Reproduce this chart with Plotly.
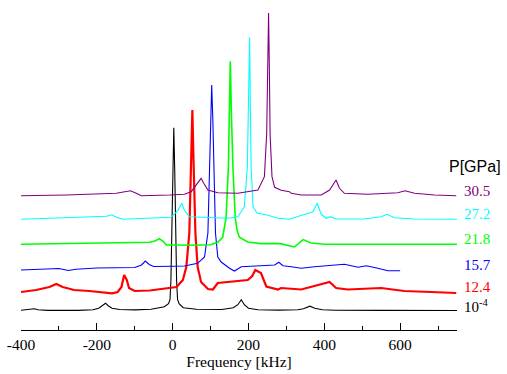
import plotly.graph_objects as go

# ---- data (x in kHz, intensity in arbitrary units above each trace's baseline)
black_khz = [-400, -375, -365, -355, -330, -250, -210, -195, -185, -177, -170, -160, -140, -100, -57, -22, -11, -7, -4.6, -2,
             0.5, 3, 5.5, 8, 10.4, 13, 17, 28, 63, 130, 160, 172, 181, 189, 200, 225, 280, 330, 345, 362, 375, 395, 430, 550, 750]
black_int = [0.5, 1.5, 2, 1, 0.3, 0.3, 1, 2.5, 5, 7.5, 5, 2.5, 1.2, 0.8, 1.5, 4, 7, 11, 30, 78,
             140, 183, 140, 78, 30, 11, 7, 3, 1.5, 1.2, 3, 6, 11, 6, 2.5, 1, 0.6, 1, 2, 4.5, 2.5, 1, 0.5, 0.3, 0.2]

red_khz = [-400, -360, -325, -307, -290, -260, -220, -190, -160, -145, -135, -128, -121, -115, -100, -60, -30, -10, 10, 27,
           36, 44, 48.5, 52, 55.5, 60, 66, 75, 93, 106, 119, 154, 198, 210, 218, 233, 247, 278, 286, 339,
           392, 414, 431, 462, 550, 611, 682, 748]
red_int = [0, 2, 5, 8, 5, 2, 1, 0, -1.3, 0, 5, 17, 12, 4, 1, 1.5, 3, 4, 5, 12,
           25, 59, 125, 182, 125, 59, 25, 10, 3, 2.5, 9, 10.5, 12, 16, 22, 19, 5.5, 2.5, 4, 2.5,
           7.5, 10, 4, 2.5, 4, 1, 0, -1]

blue_khz = [-400, -350, -300, -275, -255, -200, -150, -100, -82, -72, -62, -50, 0, 31, 66, 84, 93, 98, 100.5, 103,
            106, 109, 113, 119, 128, 150, 163, 181, 233, 269, 280, 291, 313, 339, 374, 453, 489, 511, 541, 568, 600]
blue_int = [0, 0.7, 1.5, -0.5, 0.8, 2, 2, 2.5, 5, 9, 5.5, 3.5, 3.8, 4, 6.7, 13, 37, 103, 150, 185,
            150, 103, 37, 13, 8, 1.7, -1, 3.3, 4.3, 5, 7.7, 4.3, 3.3, 1.7, 3.3, 5.7, 2.7, 4.3, 1.7, -0.7, -0.7]

green_khz = [-400, -300, -200, -100, -60, -45, -35, -25, -17, 0, 50, 100, 119, 132, 141, 147, 149.5, 152, 155, 159,
             165, 170, 176, 198, 233, 284, 321, 335, 344, 365, 400, 750]
green_int = [0, 0.5, 0.8, 1.3, 2, 3.5, 5.7, 3, -0.7, -0.7, -1, -0.5, 2, 7, 27, 77, 130, 183, 130, 77,
             27, 14, 7, 2.3, 0.7, 0.7, -2.7, 2, 4.7, 1.3, 0, 0]

cyan_khz = [-400, -300, -200, -175, -160, -148, -131, -100, -50, -4, 14, 24, 31, 44, 75, 146, 172, 189, 197, 200,
            203, 205, 207, 212, 223, 249, 278, 307, 370, 381, 392, 405, 416, 431, 505, 550, 566, 585, 637, 750]
cyan_int = [0, 1, 2.5, 3, 4.5, 2, 0, 0.5, 1, 2, 9, 16, 9, 2.6, 2, 1, 2.6, 12.6, 52.6, 110,
            182, 110, 52.6, 12.6, 6, 4.3, 1, 0, 7.6, 16, 5, 1, 2.6, 0.3, 0.3, 2.6, 5, 1.6, 0.3, 0]

purple_khz = [-400, -280, -149, -123, -111, -96, -83, -8, 31, 49, 66, 75, 82, 93, 119, 172, 225, 242, 248, 250.5,
              253, 255, 257, 262, 269, 286, 308, 313, 339, 392, 414, 431, 440, 453, 515, 594, 613, 638, 691, 748]
purple_int = [0, 0.7, 2.4, 4, 5, 2.4, 0, 0.7, 1.4, 4, 12.4, 17.4, 12.4, 5.7, 3, 2.4, 5.7, 19, 62, 130,
              182.7, 130, 62, 19, 8.4, 5.5, 4, 2.4, 0.7, 0.7, 5.7, 15.7, 7.4, 2.4, 1.4, 3, 5, 2.4, 0.7, 0]

pressures = ["10<sup>-4</sup>", "12.4", "15.7", "21.8", "27.2", "30.5"]
offsets = [19.3, 38, 60, 85.7, 110.7, 134.3]
colors = ["#000000", "#ff0000", "#0000ff", "#00ff00", "#00ffff", "#800080"]
widths = [1.1, 2.2, 1.1, 1.6, 1.1, 1.1]

tick_vals = [-400, -200, 0, 200, 400, 600]
tick_text = ["-400", "-200", "0", "200", "400", "600"]

series = [(black_khz, black_int), (red_khz, red_int), (blue_khz, blue_int),
          (green_khz, green_int), (cyan_khz, cyan_int), (purple_khz, purple_int)]

serif = "Liberation Serif, Times New Roman, serif"
sans = "Liberation Sans, Arial, sans-serif"

fig = go.Figure()
for (xs, ys), off, col, w in zip(series, offsets, colors, widths):
    fig.add_trace(go.Scatter(x=xs, y=[v + off for v in ys], mode="lines",
                             line=dict(color=col, width=w), showlegend=False, hoverinfo="skip"))

for txt, off, col in zip(pressures, offsets, colors):
    fig.add_annotation(x=1.0108, xref="paper", y=off + 5, yref="y", text=txt, showarrow=False,
                       xanchor="left", yanchor="middle", font=dict(family=serif, size=15, color=col))
fig.add_annotation(x=0.978, xref="paper", y=163.3, yref="y", text="P[GPa]", showarrow=False,
                   xanchor="left", yanchor="middle", font=dict(family=sans, size=16, color="black"))

fig.update_layout(
    width=507, height=374,
    margin=dict(l=21, r=50, t=10, b=44, autoexpand=False),
    paper_bgcolor="white", plot_bgcolor="white",
    xaxis=dict(range=[-400, 750], showgrid=False, zeroline=False, showline=True, linecolor="black", linewidth=1,
               automargin=False,
               tickmode="array", tickvals=tick_vals, ticktext=tick_text, ticks="inside", ticklen=7,
               tickcolor="black", tickwidth=1,
               minor=dict(tickmode="linear", tick0=-400, dtick=100, ticks="inside", ticklen=4,
                          tickcolor="black", tickwidth=1, showgrid=False),
               tickfont=dict(family=serif, size=15.5, color="black"),
               title=dict(text="Frequency [kHz]", font=dict(family=serif, size=15.5, color="black"), standoff=4)),
    yaxis=dict(range=[0, 320], visible=False),
)
# remove the default 8px page margin so the 507x374 figure fills the window exactly
fig.write_html("out.html", config={"displayModeBar": False},
               post_script="document.body.style.margin='0px';")
